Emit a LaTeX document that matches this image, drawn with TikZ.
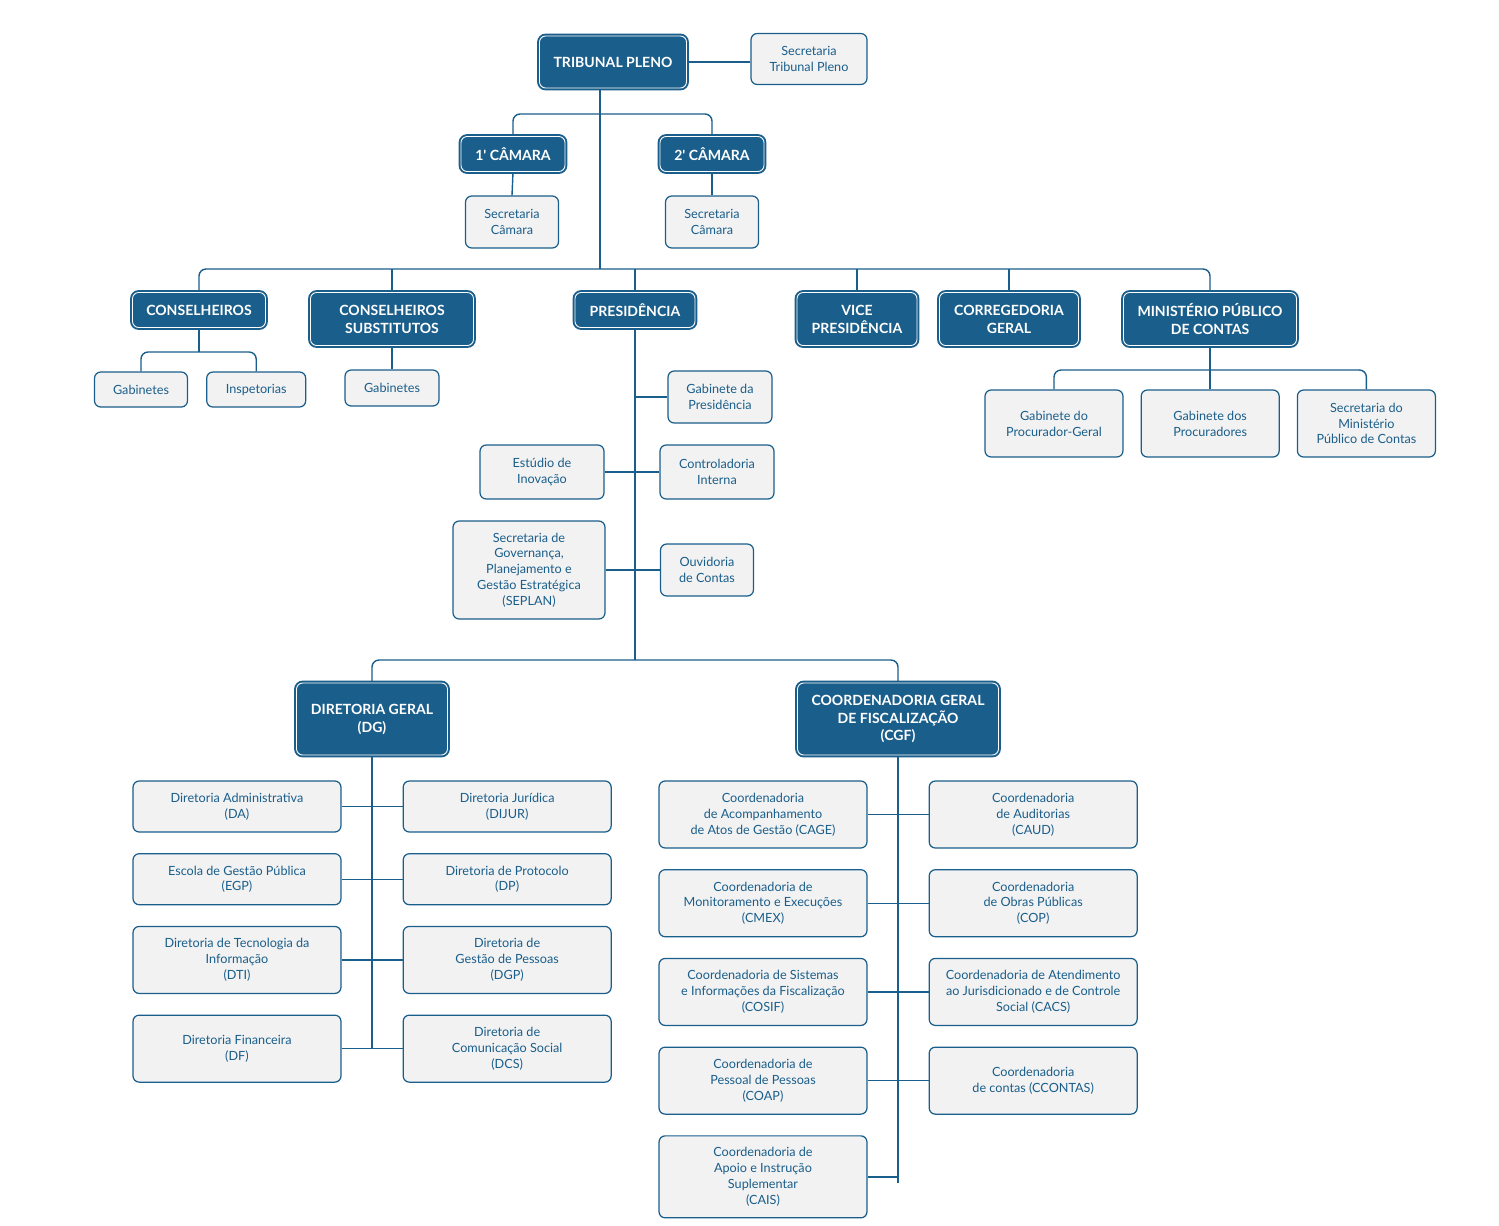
\documentclass[tikz,border=0pt]{standalone}
\usepackage{fontspec}
\setmainfont{Lato}
\usetikzlibrary{positioning,calc}
\definecolor{tceblue}{HTML}{1A5E8B}
\definecolor{tcegray}{HTML}{F2F2F2}
\pgfdeclarelayer{background}
\pgfsetlayers{background,main}
\tikzset{
  chefe/.style={rectangle,rounded corners=3.5pt,fill=tceblue,draw=tceblue,double=white,
    double distance=0.5pt,line width=1.1pt,text=white,
    font=\bfseries\fontsize{8}{10.2}\selectfont,align=center,inner sep=1pt},
  setor/.style={rectangle,rounded corners=3.5pt,fill=tcegray,draw=tceblue,line width=0.7pt,
    text=tceblue,font=\fontsize{7.2}{9}\selectfont,align=center,inner sep=1pt},
  elo/.style={draw=tceblue,line width=0.8pt},
}

\begin{document}
\begin{tikzpicture}[x=0.02cm,y=-0.02cm]
    \useasboundingbox (0,0) rectangle (1499,1225);

    % Tribunal Pleno and chambers
    \node (tp) [chefe,minimum width=2.94cm,minimum height=1.04cm] at (613,62) {TRIBUNAL PLENO};
    \node (sectp) [setor,minimum width=2.32cm,minimum height=1.02cm] at (809,59) {Secretaria\\Tribunal Pleno};
    \node (cam1) [chefe,minimum width=2.08cm,minimum height=0.7cm] at (513,154) {1\textquotesingle{} CÂMARA};
    \node (cam2) [chefe,minimum width=2.08cm,minimum height=0.7cm] at (712,154) {2\textquotesingle{} CÂMARA};
    \node (seccam1) [setor,minimum width=1.86cm,minimum height=1.04cm] at (512,222) {Secretaria\\Câmara};
    \node (seccam2) [setor,minimum width=1.86cm,minimum height=1.04cm] at (712,222) {Secretaria\\Câmara};

    \coordinate (tpfoot) at ($(tp.south)+(-13,0)$);
    \coordinate (cambar) at (600,114);
    \coordinate (rowbar) at (600,269);

    % Second row
    \node (cons) [chefe,minimum width=2.66cm,minimum height=0.7cm] at (199,310) {CONSELHEIROS};
    \node (subs) [chefe,minimum width=3.26cm,minimum height=1.06cm] at (392,319) {CONSELHEIROS\\SUBSTITUTOS};
    \node (pres) [chefe,minimum width=2.4cm,minimum height=0.7cm] at (635,310) {PRESIDÊNCIA};
    \node (vice) [chefe,minimum width=2.4cm,minimum height=1.06cm] at (857,319) {VICE\\PRESIDÊNCIA};
    \node (corr) [chefe,minimum width=2.78cm,minimum height=1.06cm] at (1009,319) {CORREGEDORIA\\GERAL};
    \node (mpc) [chefe,minimum width=3.46cm,minimum height=1.06cm] at (1210,319) {MINISTÉRIO PÚBLICO\\DE CONTAS};

    \node (gab1) [setor,minimum width=1.86cm,minimum height=0.7cm] at (141,389.5) {Gabinetes};
    \node (insp) [setor,minimum width=1.98cm,minimum height=0.7cm,right=0.36cm of gab1] {Inspetorias};
    \node (gab2) [setor,minimum width=1.88cm,minimum height=0.72cm] at (392,388) {Gabinetes};
    \coordinate (consbar) at (199,352);

    \node (gabpg) [setor,minimum width=2.76cm,minimum height=1.34cm] at (1054,423.5) {Gabinete do\\Procurador-Geral};
    \node (gabproc) [setor,minimum width=2.76cm,minimum height=1.34cm,right=0.34cm of gabpg] {Gabinete dos\\Procuradores};
    \node (secmp) [setor,minimum width=2.76cm,minimum height=1.34cm,right=0.34cm of gabproc] {Secretaria do\\Ministério\\Público de Contas};
    \coordinate (mpbar) at (1210,370);

    % Presidencia
    \node (gabpres) [setor,minimum width=2.08cm,minimum height=1.04cm] at (720,397) {Gabinete da\\Presidência};
    \node (estudio) [setor,minimum width=2.48cm,minimum height=1.08cm] at (542,472) {Estúdio de\\Inovação};
    \node (contr) [setor,minimum width=2.28cm,minimum height=1.08cm] at (717,472) {Controladoria\\Interna};
    \node (seplan) [setor,minimum width=3.04cm,minimum height=1.96cm] at (529,570) {Secretaria de\\Governança,\\Planejamento e\\Gestão Estratégica\\(SEPLAN)};
    \node (ouv) [setor,minimum width=1.86cm,minimum height=1.04cm] at (707,570) {Ouvidoria\\de Contas};
    \coordinate (presbar) at (635,660);

    \node (dg) [chefe,minimum width=3.02cm,minimum height=1.44cm] at (372,719) {DIRETORIA GERAL\\(DG)};
    \node (cgf) [chefe,minimum width=4.02cm,minimum height=1.44cm] at (898,719) {COORDENADORIA GERAL\\DE FISCALIZAÇÃO\\(CGF)};

    % Diretoria Geral
    \node (da) [setor,minimum width=4.16cm,minimum height=1.02cm] at (237,806.5) {Diretoria Administrativa\\(DA)};
    \node (dijur) [setor,minimum width=4.16cm,minimum height=1.02cm,right=1.22cm of da] {Diretoria Jurídica\\(DIJUR)};
    \node (egp) [setor,minimum width=4.16cm,minimum height=1.02cm,below=0.41cm of da] {Escola de Gestão Pública\\(EGP)};
    \node (dp) [setor,minimum width=4.16cm,minimum height=1.02cm,right=1.22cm of egp] {Diretoria de Protocolo\\(DP)};
    \node (dti) [setor,minimum width=4.16cm,minimum height=1.34cm,below=0.41cm of egp] {Diretoria de Tecnologia da\\Informação\\(DTI)};
    \node (dgp) [setor,minimum width=4.16cm,minimum height=1.34cm,right=1.22cm of dti] {Diretoria de\\Gestão de Pessoas\\(DGP)};
    \node (df) [setor,minimum width=4.16cm,minimum height=1.34cm,below=0.41cm of dti] {Diretoria Financeira\\(DF)};
    \node (dcs) [setor,minimum width=4.16cm,minimum height=1.34cm,right=1.22cm of df] {Diretoria de\\Comunicação Social\\(DCS)};

    % Coordenadoria Geral de Fiscalizacao
    \node (cage) [setor,minimum width=4.16cm,minimum height=1.34cm] at (763,814.5) {Coordenadoria\\de Acompanhamento\\de Atos de Gestão (CAGE)};
    \node (caud) [setor,minimum width=4.16cm,minimum height=1.34cm,right=1.22cm of cage] {Coordenadoria\\de Auditorias\\(CAUD)};
    \node (cmex) [setor,minimum width=4.16cm,minimum height=1.34cm,below=0.41cm of cage] {Coordenadoria de\\Monitoramento e Execuções\\(CMEX)};
    \node (cop) [setor,minimum width=4.16cm,minimum height=1.34cm,right=1.22cm of cmex] {Coordenadoria\\de Obras Públicas\\(COP)};
    \node (cosif) [setor,minimum width=4.16cm,minimum height=1.34cm,below=0.41cm of cmex] {Coordenadoria de Sistemas\\e Informações da Fiscalização\\(COSIF)};
    \node (cacs) [setor,minimum width=4.16cm,minimum height=1.34cm,right=1.22cm of cosif] {Coordenadoria de Atendimento\\ao Jurisdicionado e de Controle\\Social (CACS)};
    \node (coap) [setor,minimum width=4.16cm,minimum height=1.34cm,below=0.41cm of cosif] {Coordenadoria de\\Pessoal de Pessoas\\(COAP)};
    \node (ccontas) [setor,minimum width=4.16cm,minimum height=1.34cm,right=1.22cm of coap] {Coordenadoria\\de contas (CCONTAS)};
    \node (cais) [setor,minimum width=4.16cm,minimum height=1.64cm,below=0.41cm of coap] {Coordenadoria de\\Apoio e Instrução\\Suplementar\\(CAIS)};

    % Lines
    \begin{pgfonlayer}{background}
    \draw[elo] (tp.east) -- (tp.east -| sectp.west);
    \draw[elo] (tpfoot) -- (rowbar);
    \draw[elo,rounded corners=4pt] (cam1.north) |- (cambar) -| (cam2.north);
    \draw[elo] (cam1.south) -- (seccam1.north);
    \draw[elo] (cam2.south) -- (seccam2.north);

    \draw[elo,rounded corners=4pt] (cons.north) |- (rowbar) -| (mpc.north);
    \draw[elo] (subs.north) -- (subs.north |- rowbar);
    \draw[elo] (pres.north) -- (pres.north |- rowbar);
    \draw[elo] (vice.north) -- (vice.north |- rowbar);
    \draw[elo] (corr.north) -- (corr.north |- rowbar);

    \draw[elo] (cons.south) -- (consbar);
    \draw[elo,rounded corners=4pt] (gab1.north) |- (consbar) -| (insp.north);
    \draw[elo] (subs.south) -- (gab2.north);
    \draw[elo] (mpc.south) -- (mpc.south |- gabproc.north);
    \draw[elo,rounded corners=4pt] (gabpg.north) |- (mpbar) -| (secmp.north);

    \draw[elo] (pres.south) -- (presbar);
    \draw[elo] (gabpres.west) -- (gabpres.west -| presbar);
    \draw[elo] (estudio.east) -- (contr.west);
    \draw[elo] (seplan.east) -- (ouv.west);
    \draw[elo,rounded corners=4pt] (dg.north) |- (presbar) -| (cgf.north);

    \draw[elo] (dg.south) -- (dg.south |- df.east);
    \draw[elo] (da.east) -- (dijur.west);
    \draw[elo] (egp.east) -- (dp.west);
    \draw[elo] (dti.east) -- (dgp.west);
    \draw[elo] (df.east) -- (dcs.west);

    \draw[elo] (cgf.south) -- ($(cgf.south |- cais.east)+(0,6)$);
    \draw[elo] (cage.east) -- (caud.west);
    \draw[elo] (cmex.east) -- (cop.west);
    \draw[elo] (cosif.east) -- (cacs.west);
    \draw[elo] (coap.east) -- (ccontas.west);
    \draw[elo] (cais.east) -- (cais.east -| cgf.south);
    \end{pgfonlayer}

\end{tikzpicture}
\end{document}
